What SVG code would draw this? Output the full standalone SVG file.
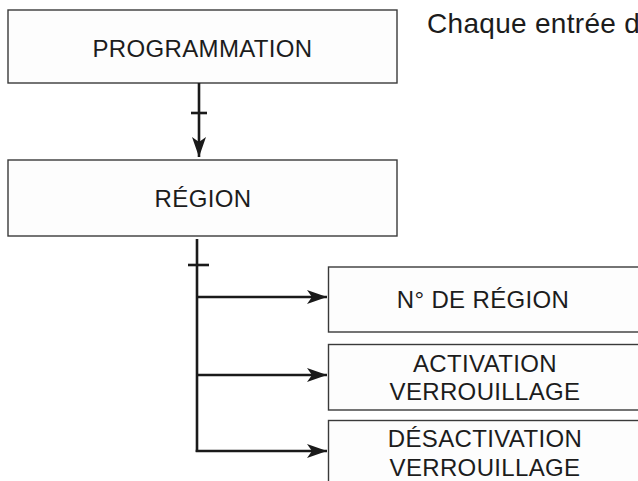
<svg xmlns="http://www.w3.org/2000/svg" width="638" height="481" viewBox="0 0 638 481">
<style>
.box{fill:#fdfdfd;stroke:#3a3a3a;stroke-width:1.4}
.t{font-family:"Liberation Sans",Arial,sans-serif;font-size:24px;fill:#1c1c1c;text-anchor:middle;letter-spacing:0.35px}
.c{fill:none;stroke:#1a1a1a;stroke-width:2.6}
</style>
<defs>
<marker id="ah" markerUnits="userSpaceOnUse" viewBox="0 0 20 14" markerWidth="20" markerHeight="14" refX="20" refY="7" orient="auto">
<path d="M0,0 L20,7 L0,14 L5,7 z" fill="#1a1a1a"/>
</marker>
</defs>
<rect width="638" height="481" fill="#ffffff"/>
<g id="programmation">
<rect class="box" x="8" y="10" width="389" height="73"/>
<text class="t" x="202.5" y="57">PROGRAMMATION</text>
</g>
<g id="region">
<rect class="box" x="8" y="160" width="389" height="76"/>
<text class="t" x="203" y="207">RÉGION</text>
</g>
<g id="no-region">
<rect class="box" x="328.5" y="267" width="312" height="65"/>
<text class="t" x="483" y="308">N° DE RÉGION</text>
</g>
<g id="activation">
<rect class="box" x="328.5" y="344.5" width="312" height="65.5"/>
<text class="t" x="485" y="372">ACTIVATION</text>
<text class="t" x="485" y="400">VERROUILLAGE</text>
</g>
<g id="desactivation">
<rect class="box" x="328.5" y="420.5" width="312" height="70"/>
<text class="t" x="485" y="447">DÉSACTIVATION</text>
<text class="t" x="485" y="476">VERROUILLAGE</text>
</g>
<g id="note">
<text x="427" y="33" style="font-family:'Liberation Sans',Arial,sans-serif;font-size:28px;fill:#1c1c1c;letter-spacing:0.3px">Chaque entrée d</text>
</g>
<g id="connectors">
<line class="c" x1="199" y1="83" x2="199" y2="157" marker-end="url(#ah)"/>
<line class="c" x1="191" y1="113" x2="207" y2="113"/>
<path class="c" d="M197,239 V452"/>
<line class="c" x1="188" y1="265" x2="209" y2="265"/>
<line class="c" x1="197" y1="297" x2="327" y2="297" marker-end="url(#ah)"/>
<line class="c" x1="197" y1="375" x2="327" y2="375" marker-end="url(#ah)"/>
<line class="c" x1="195.7" y1="451" x2="327" y2="451" marker-end="url(#ah)"/>
</g>
</svg>
